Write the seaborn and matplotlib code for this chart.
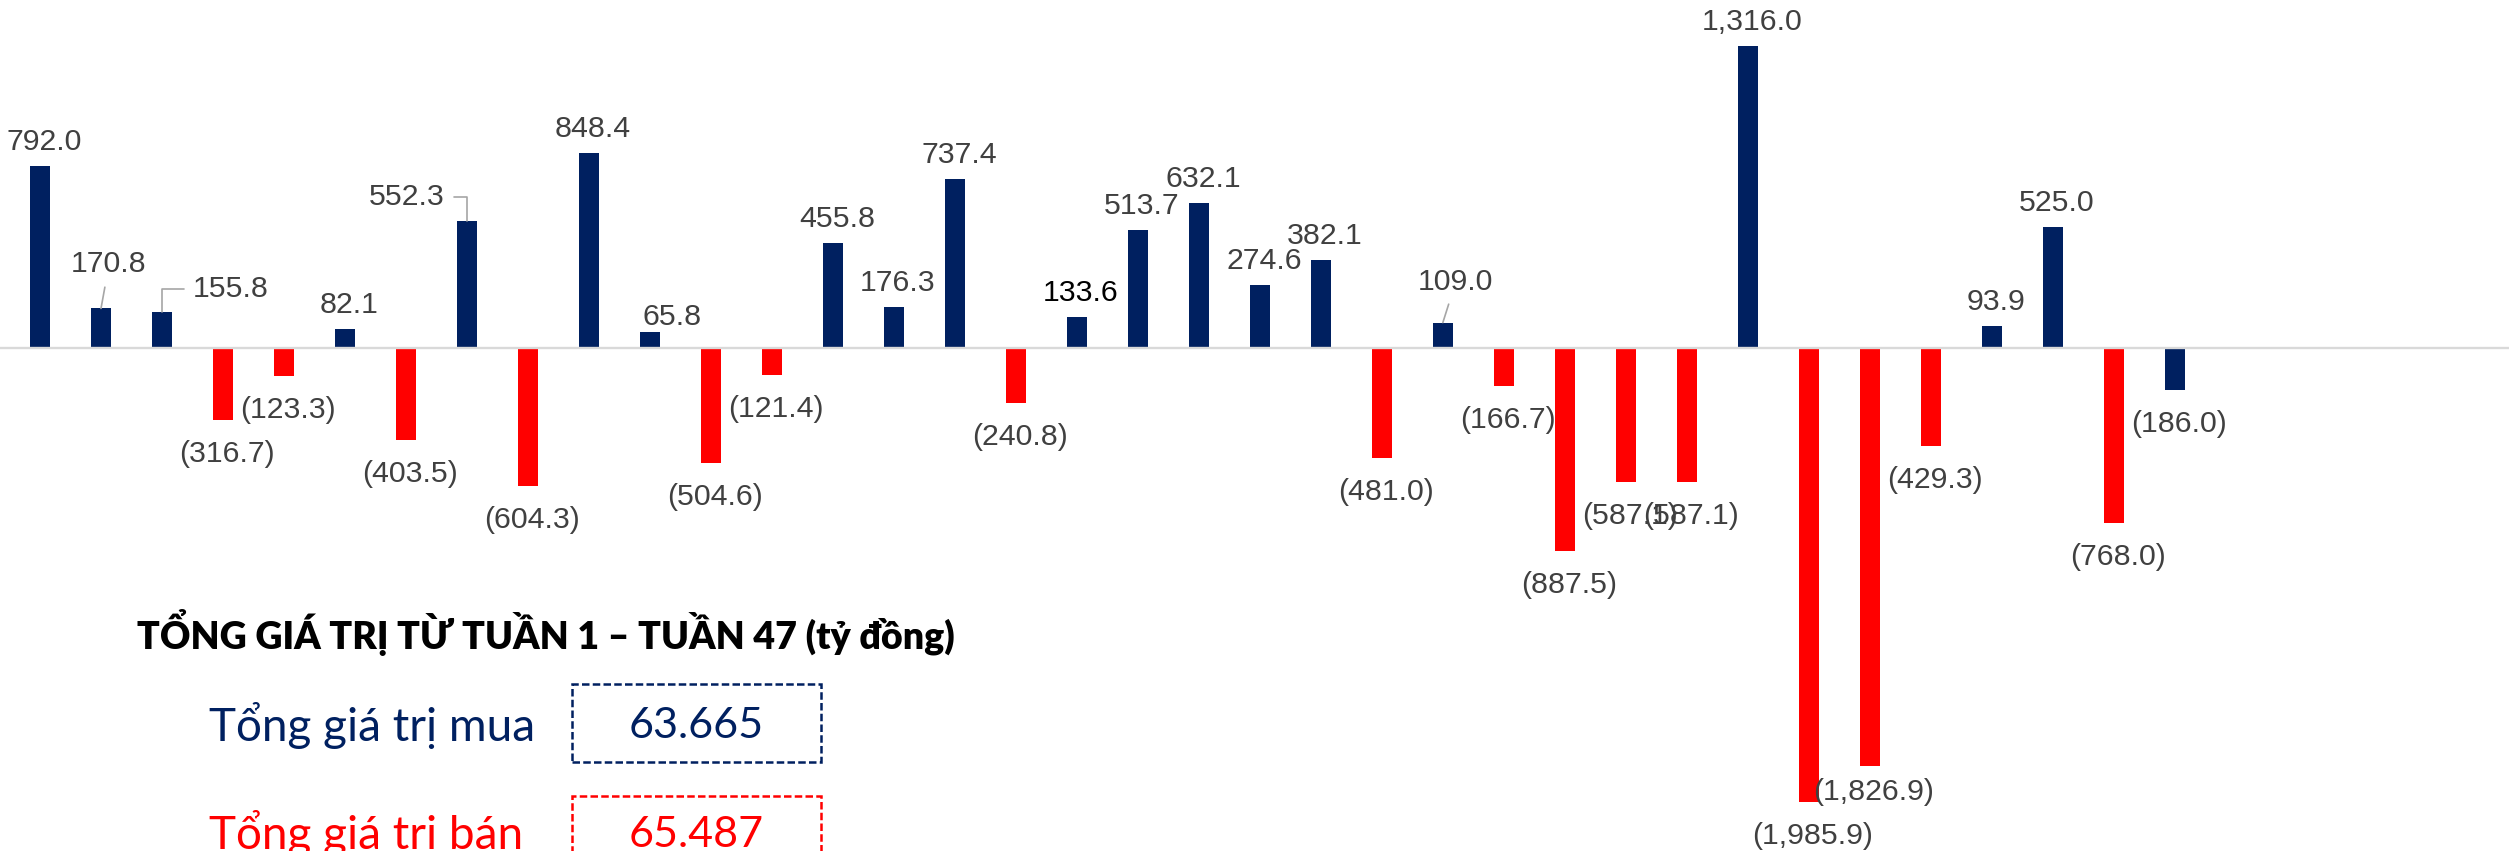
import matplotlib
matplotlib.use('Agg')
import matplotlib.pyplot as plt
from matplotlib.patches import Rectangle
import pandas as pd
import seaborn as sns

sns.set_style('white')
plt.rcParams['font.family'] = ['Liberation Sans', 'DejaVu Sans']

NAVY = '#002060'
RED = '#ff0000'

# weekly net value (ty dong), positive = net buy, negative = net sell
weeks = [1, 2, 3, 4, 5, 6, 7, 8, 9, 10, 11, 12, 13, 14, 15, 16, 17, 18,
         19, 20, 21, 22, 23, 24, 25, 26, 27, 28, 29, 30, 31, 32, 33, 34, 35, 36]
values = [792.0, 170.8, 155.8, -316.7, -123.3, 82.1, -403.5, 552.3, -604.3, 848.4,
          65.8, -504.6, -121.4, 455.8, 176.3, 737.4, -240.8, 133.6, 513.7, 632.1,
          274.6, 382.1, -481.0, 109.0, -166.7, -887.5, -587.1, -587.1, 1316.0, -1985.9,
          -1826.9, -429.3, 93.9, 525.0, -768.0, -186.0]
side = ['mua' if v > 0 else 'ban' for v in values]
side[-1] = 'mua'   # last week is drawn in navy in the source

title = "TỔNG GIÁ TRỊ TỪ TUẦN 1 – TUẦN 47 (tỷ đồng)"
buy_label, buy_total = "Tổng giá trị mua", "63.665"
sell_label, sell_total = "Tổng giá trị bán", "65.487"

df = pd.DataFrame({'week': weeks, 'value': values, 'side': side})

fig = plt.figure(figsize=(25.09, 8.51), dpi=100)
ax = fig.add_axes([0, 0, 1, 1])
sns.barplot(data=df, x='week', y='value', hue='side',
            palette={'mua': NAVY, 'ban': RED}, dodge=False, width=0.33,
            saturation=1, linewidth=0, legend=False, ax=ax)
ax.set_xlim(-0.656, 40.48)
ax.set_ylim(-2199, 1518)
ax.axis('off')
ax.axhline(0, color='#d9d9d9', lw=1.7, zorder=5)

# label placement tweaks (pixels), leader lines where the label was moved
offsets = {1: (8, 47), 2: (69, 26), 7: (-60, 27), 10: (22, 18), 23: (13, 44), 30: (4, -23)}
leaders = {1: 'arc3', 2: 'angle,angleA=0,angleB=90,rad=0',
           7: 'angle,angleA=0,angleB=90,rad=0', 23: 'arc3'}
relpos = {2: (0, 0.5), 7: (1, 0.5)}

for i, v in enumerate(values):
    txt = f"{v:,.1f}" if v > 0 else f"({-v:,.1f})"
    dx, dy = offsets.get(i, (4, 27 if v > 0 else -31))
    arrow = None
    if i in leaders:
        arrow = dict(arrowstyle='-', color='#a6a6a6', lw=1.2, shrinkA=4, shrinkB=0,
                     connectionstyle=leaders[i], relpos=relpos.get(i, (0.5, 0.5)))
    ax.annotate(txt, xy=(i, v), xytext=(dx, dy - 3), textcoords='offset pixels',
                ha='center', va='center', fontsize=21.8,
                color='black' if i == 17 else '#404040',
                arrowprops=arrow, zorder=6)

# summary block
box_font = ['Lato', 'Noto Sans', 'DejaVu Sans']
fig.text(0.0546, 0.2562, title, fontsize=27, fontweight='heavy', color='black',
         family=box_font, ha='left', va='center')
fig.text(0.0833, 0.148, buy_label, fontsize=33, color=NAVY,
         family=box_font, ha='left', va='center')
fig.text(0.2774, 0.147, buy_total, fontsize=31, color=NAVY,
         family=box_font, ha='center', va='center')
fig.text(0.0833, 0.020, sell_label, fontsize=33, color=RED,
         family=box_font, ha='left', va='center')
fig.text(0.2774, 0.019, sell_total, fontsize=31, color=RED,
         family=box_font, ha='center', va='center')

fig.add_artist(Rectangle((0.228, 0.1046), 0.0992, 0.0916, transform=fig.transFigure,
                         fill=False, ec=NAVY, lw=1.8, ls=(0, (3, 1.3))))
fig.add_artist(Rectangle((0.228, -0.05), 0.0992, 0.1146, transform=fig.transFigure,
                         fill=False, ec=RED, lw=1.8, ls=(0, (3, 1.3))))

fig.savefig('out.png', dpi=100)
